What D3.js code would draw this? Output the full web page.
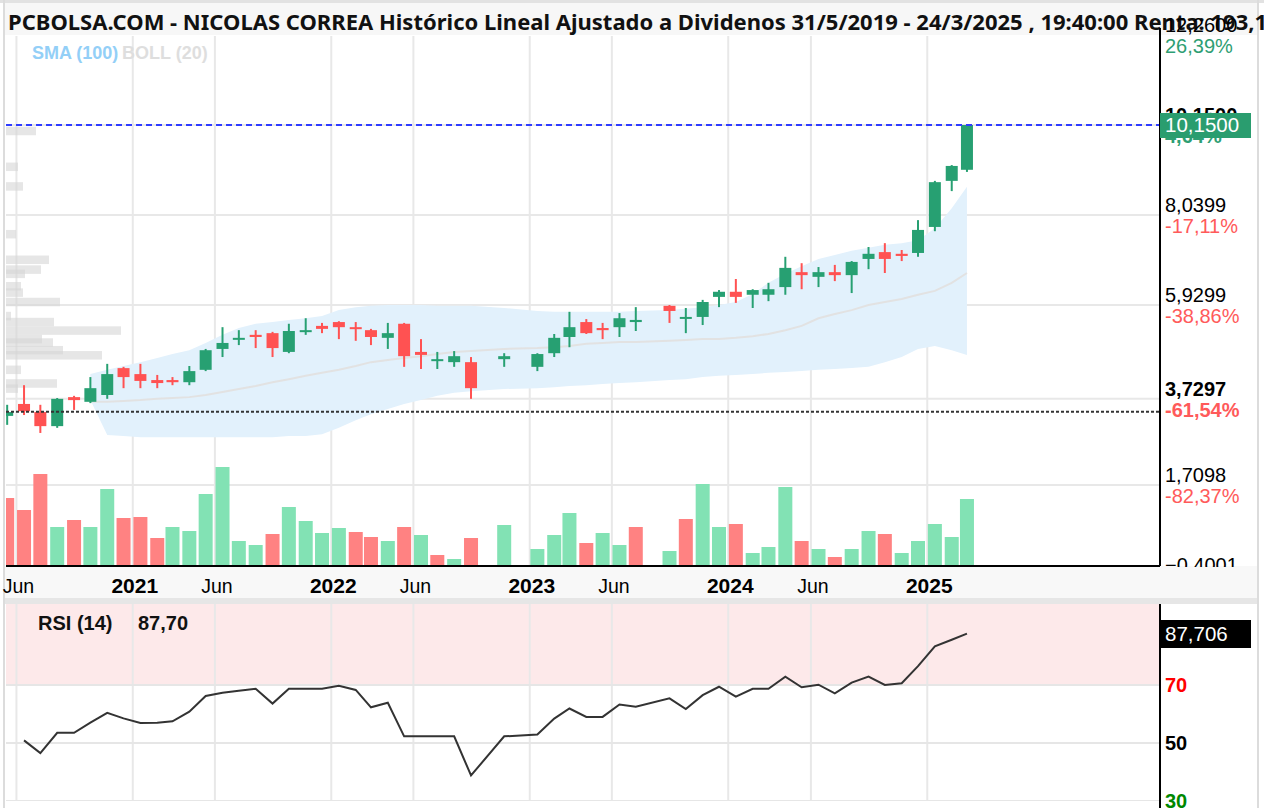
<!DOCTYPE html>
<meta charset="utf-8">
<script src="https://d3js.org/d3.v7.min.js"></script>
<style>
  body { margin: 0; background: #fff; }
  svg { display: block; font-family: Arial, "Liberation Sans", sans-serif; }
</style>
<body>
<div id="chart"></div>
<script>
// ---- data (monthly, Oct 2022 / Dec 2022 / Aug 2023 missing) ----
const months = ["2020-05","2020-06","2020-07","2020-08","2020-09","2020-10","2020-11","2020-12",
  "2021-01","2021-02","2021-03","2021-04","2021-05","2021-06","2021-07","2021-08","2021-09","2021-10","2021-11","2021-12",
  "2022-01","2022-02","2022-03","2022-04","2022-05","2022-06","2022-07","2022-08","2022-09","2022-11",
  "2023-01","2023-02","2023-03","2023-04","2023-05","2023-06","2023-07","2023-09","2023-10","2023-11","2023-12",
  "2024-01","2024-02","2024-03","2024-04","2024-05","2024-06","2024-07","2024-08","2024-09","2024-10","2024-11","2024-12",
  "2025-01","2025-02","2025-03"];

const open  = [3.33,3.61,3.42,3.09,3.77,3.66,3.82,4.45, 4.31,4.17,4.17,4.12,4.41,4.90,5.13,5.23,5.27,4.83,5.30,5.44,
  5.53,5.41,5.34,5.16,5.49,4.83,4.64,4.59,4.59,4.66, 4.48,4.80,5.18,5.53,5.39,5.41,5.53,5.91,5.62,5.65,6.12,
  6.24,6.17,6.17,6.35,6.70,6.59,6.70,6.63,7.01,7.17,7.13,7.15, 7.76,8.84,9.10];
const high  = [3.59,4.05,3.59,3.75,3.80,4.24,4.55,4.48, 4.55,4.29,4.24,4.50,4.90,5.41,5.34,5.34,5.30,5.49,5.62,5.51,
  5.55,5.53,5.37,5.51,5.51,5.13,4.83,4.85,4.71,4.80, 4.80,5.25,5.77,5.60,5.51,5.74,5.88,5.93,5.86,6.05,6.28,
  6.54,6.30,6.45,7.06,6.91,6.82,6.87,6.96,7.29,7.38,7.22,7.92, 8.84,9.21,10.17];
const low   = [3.12,3.35,2.93,3.05,3.47,3.63,3.73,3.98, 3.98,3.98,4.05,4.05,4.38,4.71,4.99,4.92,4.71,4.80,5.23,5.27,
  5.13,5.09,4.99,4.90,4.48,4.43,4.43,4.48,3.73,4.48, 4.38,4.71,4.94,5.25,5.13,5.18,5.32,5.51,5.27,5.46,5.88,
  5.98,5.86,6.02,6.17,6.30,6.35,6.49,6.21,6.77,6.68,6.96,7.06, 7.66,8.60,9.05];
const close = [3.42,3.44,3.09,3.73,3.70,3.98,4.31,4.24, 4.15,4.10,4.12,4.38,4.87,5.04,5.16,5.18,4.92,5.32,5.34,5.37,
  5.41,5.37,5.18,5.27,4.73,4.76,4.66,4.73,3.98,4.73, 4.78,5.16,5.41,5.27,5.34,5.62,5.58,5.79,5.65,6.00,6.24,
  6.12,6.28,6.30,6.80,6.63,6.70,6.63,6.94,7.13,7.01,7.08,7.69, 8.81,9.19,10.15];

const volume = [68,56,92,39,46,39,77,48, 49,28,39,35,72,99,25,21,32,59,45,33,
  38,34,29,25,39,31,11,7,28,41, 17,31,53,23,33,21,39,15,47,82,39,
  42,13,19,79,25,17,9,17,35,32,13,25, 42,29,67];
const volUp = [0,0,0,1,0,1,1,0, 0,0,1,1,1,1,1,1,0,1,1,1,
  1,0,0,1,0,1,0,1,0,1, 1,1,1,0,1,1,0,1,0,1,1,
  0,1,1,1,0,1,0,1,1,0,1,1, 1,1,1];

const bollUpper = [null,null,null,null,null,4.31,4.41,4.50, 4.59,4.69,4.78,4.87,5.04,5.23,5.39,5.49,5.53,5.58,5.62,5.67,
  5.81,5.88,5.91,5.93,5.93,5.93,5.91,5.91,5.91,5.86, 5.79,5.77,5.77,5.77,5.77,5.77,5.79,5.81,5.84,5.88,5.93,
  6.00,6.19,6.45,6.66,6.84,7.01,7.10,7.20,7.27,7.34,7.38,7.45, 7.73,8.20,8.70];
const bollMid = [null,null,null,null,null,3.66,3.66,3.68, 3.70,3.73,3.75,3.77,3.82,3.89,3.96,4.03,4.12,4.19,4.27,4.34,
  4.41,4.50,4.59,4.64,4.69,4.73,4.78,4.83,4.85,4.90, 4.92,4.94,4.97,5.02,5.04,5.06,5.06,5.09,5.11,5.13,5.13,
  5.16,5.20,5.25,5.34,5.44,5.62,5.72,5.81,5.93,6.00,6.07,6.17, 6.26,6.45,6.68];
const bollLower = [null,null,null,null,null,3.70,2.88,2.86, 2.83,2.83,2.83,2.83,2.83,2.83,2.83,2.83,2.83,2.86,2.86,2.90,
  3.05,3.23,3.37,3.49,3.61,3.70,3.80,3.87,3.91,3.96, 3.98,4.00,4.03,4.05,4.08,4.10,4.12,4.17,4.19,4.24,4.27,
  4.29,4.31,4.34,4.36,4.38,4.41,4.43,4.45,4.48,4.59,4.71,4.90, 4.97,4.87,4.76];

const rsi = [null,50.9,46.5,53.5,53.5,57.0,60.4,58.5, 56.9,57.0,57.5,60.8,66.2,67.3,68.0,68.7,63.6,68.7,68.7,68.7,
  69.7,68.3,62.3,63.9,52.3,52.3,52.3,52.3,38.8,52.3, 52.9,58.4,61.9,59.0,59.0,63.3,62.5,65.4,61.7,66.5,69.4,
  66.0,68.7,68.7,72.9,69.2,70.1,67.1,70.8,72.9,70.0,70.6,76.5, 83.3,85.6,87.7];

// volume-at-price profile on the left edge
const profPrice = [10.01,9.17,8.71,7.59,6.99,6.76,6.66,6.37,6.22,6.00,5.67,5.53,5.33,5.13,5.05,4.87,4.75,4.41,4.09,3.97];
const profVol   = [30,12,17,10,43,35,19,15,17,54,5,48,115,36,47,57,96,15,51,12];

const priceTicks = [12.26, 10.15, 8.0399, 5.9299, 3.7297, 1.7098, -0.4001];
const tickPct = ["26,39%", "4,64%", "-17,11%", "-38,86%", "-61,54%", "-82,37%", "-104,12%"];
const boldTicks = [10.15, 3.7297];
const lastPrice = 10.15;
const refPrice = 3.43;
const xTicks = ["2020-06","2021-01","2021-06","2022-01","2022-06","2023-01","2023-06","2024-01","2024-06","2025-01"];
const rsiLevels = [70, 50, 30];
const rsiLast = "87,706";

// ---- layout ----
const W = 1264, H = 808;
const plotL = 6, plotR = 1160, mainTop = 36, mainBot = 566, rsiTop = 604, rsiBot = 801;

const green = "#27a072", red = "#ff5252", volGreen = "#82e2b4", volRed = "#ff8282";
const fmt = v => d3.format(".4f")(v).replace(".", ",");

const parse = d3.timeParse("%Y-%m");
const dates = months.map(parse);
const mid = dates.map(d => new Date(d.getFullYear(), d.getMonth(), 15));

const x = d3.scaleTime().domain([new Date(2020, 4, 11), new Date(2026, 2, 5)]).range([5, plotR]);
const y = d3.scaleLinear().domain([1.7098, 10.15]).range([485, 125]);
const yVol = d3.scaleLinear().domain([0, 100]).range([mainBot, mainBot - 100]);
const xProf = d3.scaleLinear().domain([0, 115]).range([plotL, 121]);
const yR = d3.scaleLinear().domain([30, 100]).range([801, 598]);

const svg = d3.select("#chart").append("svg").attr("width", W).attr("height", H);

const defs = svg.append("defs");
defs.append("clipPath").attr("id", "clipMain").append("rect")
  .attr("x", plotL).attr("y", mainTop).attr("width", plotR - plotL).attr("height", mainBot - mainTop);
defs.append("clipPath").attr("id", "clipRsi").append("rect")
  .attr("x", plotL).attr("y", rsiTop).attr("width", plotR - plotL).attr("height", rsiBot - rsiTop);

// frame
svg.append("rect").attr("width", W).attr("height", H).attr("fill", "#fff");
svg.append("rect").attr("x", 0).attr("y", 0).attr("width", W).attr("height", 3).attr("fill", "#e2e2e2");
svg.append("rect").attr("x", 5).attr("y", 3).attr("width", 1253).attr("height", 32).attr("fill", "#f7f7f7");
svg.append("rect").attr("x", 3).attr("y", 0).attr("width", 2).attr("height", H).attr("fill", "#dcdcdc");
svg.append("rect").attr("x", 1257).attr("y", 0).attr("width", 2).attr("height", H).attr("fill", "#dcdcdc");

// main panel
const main = svg.append("g").attr("clip-path", "url(#clipMain)");

main.selectAll(".vgrid").data(xTicks).join("line")
  .attr("x1", d => x(parse(d))).attr("x2", d => x(parse(d)))
  .attr("y1", mainTop).attr("y2", mainBot)
  .attr("stroke", "#e8e8e8").attr("stroke-width", 2);

main.selectAll(".hgrid").data(priceTicks).join("line")
  .attr("x1", plotL).attr("x2", plotR)
  .attr("y1", d => y(d)).attr("y2", d => y(d))
  .attr("stroke", "#e8e8e8").attr("stroke-width", 2);

// volume profile
main.selectAll(".prof").data(profPrice).join("rect")
  .attr("x", plotL)
  .attr("y", d => y(d + 0.1))
  .attr("width", (d, i) => xProf(profVol[i]) - plotL)
  .attr("height", y(0) - y(0.2))
  .attr("fill", "#d6d6d6").attr("opacity", 0.6);

// bollinger band
const idx = d3.range(months.length);
main.append("path")
  .datum(idx)
  .attr("fill", "#e2f1fc")
  .attr("d", d3.area()
    .defined(i => bollUpper[i] != null)
    .x(i => x(mid[i]))
    .y0(i => y(bollLower[i]))
    .y1(i => y(bollUpper[i])));
main.append("path")
  .datum(idx)
  .attr("fill", "none").attr("stroke", "#e2e2e2").attr("stroke-width", 2)
  .attr("d", d3.line()
    .defined(i => bollMid[i] != null)
    .x(i => x(mid[i]))
    .y(i => y(bollMid[i])));

// volume bars
main.selectAll(".vol").data(idx).join("rect")
  .attr("x", i => x(mid[i]) - 7)
  .attr("y", i => yVol(volume[i]))
  .attr("width", 14)
  .attr("height", i => mainBot - yVol(volume[i]))
  .attr("fill", i => volUp[i] ? volGreen : volRed);

// candles
const candle = main.selectAll(".candle").data(idx).join("g");
candle.append("line")
  .attr("x1", i => x(mid[i])).attr("x2", i => x(mid[i]))
  .attr("y1", i => y(high[i])).attr("y2", i => y(low[i]))
  .attr("stroke", i => close[i] >= open[i] ? green : red).attr("stroke-width", 2);
candle.append("rect")
  .attr("x", i => x(mid[i]) - 6)
  .attr("y", i => y(Math.max(open[i], close[i])))
  .attr("width", 12)
  .attr("height", i => Math.max(2, Math.abs(y(open[i]) - y(close[i]))))
  .attr("fill", i => close[i] >= open[i] ? green : red);

// reference lines
main.append("line")
  .attr("x1", plotL).attr("x2", plotR).attr("y1", y(lastPrice)).attr("y2", y(lastPrice))
  .attr("stroke", "#2f3cff").attr("stroke-width", 2).attr("stroke-dasharray", "6,4");
main.append("line")
  .attr("x1", plotL).attr("x2", plotR).attr("y1", y(refPrice)).attr("y2", y(refPrice))
  .attr("stroke", "#333").attr("stroke-width", 2).attr("stroke-dasharray", "3,2");

// x axis strip
svg.append("rect").attr("x", 5).attr("y", mainBot).attr("width", 1252).attr("height", 32).attr("fill", "#f8f8f8");
svg.append("rect").attr("x", 5).attr("y", 598).attr("width", 1252).attr("height", 6).attr("fill", "#e6e6e6");
svg.append("line").attr("x1", plotL).attr("x2", plotR).attr("y1", mainBot).attr("y2", mainBot)
  .attr("stroke", "#000").attr("stroke-width", 2);

const xl = svg.append("g");
xl.selectAll("text").data(xTicks).join("text")
  .attr("x", d => x(parse(d)) + 2)
  .attr("y", 593)
  .attr("text-anchor", "middle")
  .attr("font-size", d => parse(d).getMonth() === 0 ? 21 : 19.5)
  .attr("font-weight", d => parse(d).getMonth() === 0 ? "bold" : "normal")
  .attr("fill", "#000")
  .text(d => parse(d).getMonth() === 0 ? parse(d).getFullYear() : "Jun");

// title + legend
svg.append("text").attr("x", 8).attr("y", 30)
  .attr("font-family", "'Noto Sans', 'Open Sans', sans-serif")
  .attr("font-size", 22).attr("font-weight", "bold").attr("fill", "#111")
  .text("PCBOLSA.COM - NICOLAS CORREA Histórico Lineal Ajustado a Dividenos 31/5/2019 - 24/3/2025 , 19:40:00 Renta: 193,18%");
svg.append("text").attr("x", 32).attr("y", 59).attr("font-size", 18).attr("font-weight", "bold")
  .attr("fill", "#93cff7").text("SMA (100)");
svg.append("text").attr("x", 122).attr("y", 59).attr("font-size", 18).attr("font-weight", "bold")
  .attr("fill", "#dedede").text("BOLL (20)");

// right price axis
svg.append("line").attr("x1", plotR).attr("x2", plotR).attr("y1", 28).attr("y2", mainBot)
  .attr("stroke", "#000").attr("stroke-width", 2);
const lab = svg.append("g");
priceTicks.forEach((v, i) => {
  const b = boldTicks.includes(v);
  lab.append("text").attr("x", 1165).attr("y", y(v) - 3)
    .attr("font-size", 20).attr("font-weight", b ? "bold" : "normal").attr("fill", "#000")
    .text(fmt(v));
  lab.append("text").attr("x", 1165).attr("y", y(v) + 18)
    .attr("font-size", 20).attr("font-weight", b ? "bold" : "normal")
    .attr("fill", tickPct[i].startsWith("-") ? "#ff5a5a" : "#2e9e73")
    .text(tickPct[i]);
});
// last price box
lab.append("rect").attr("x", plotR).attr("y", y(lastPrice) - 12).attr("width", 91).attr("height", 25)
  .attr("fill", "#2a9d6f");
lab.append("text").attr("x", 1165).attr("y", y(lastPrice) + 7)
  .attr("font-size", 20.5).attr("fill", "#fff").text(fmt(lastPrice));

// x axis strip covers the cut -0,4001 percent
svg.append("rect").attr("x", plotR + 1).attr("y", mainBot + 1).attr("width", 96).attr("height", 31).attr("fill", "#f8f8f8");
svg.append("rect").attr("x", plotR + 1).attr("y", 598).attr("width", 96).attr("height", 6).attr("fill", "#e6e6e6");

// ---- RSI panel ----
const rp = svg.append("g").attr("clip-path", "url(#clipRsi)");
rp.append("rect").attr("x", plotL).attr("y", yR(100)).attr("width", plotR - plotL)
  .attr("height", yR(70) - yR(100)).attr("fill", "#fde9ea");
rp.selectAll(".vg").data(xTicks).join("line")
  .attr("x1", d => x(parse(d))).attr("x2", d => x(parse(d)))
  .attr("y1", rsiTop).attr("y2", rsiBot)
  .attr("stroke", "#e8e8e8").attr("stroke-width", 2);
rp.selectAll(".hg").data(rsiLevels).join("line")
  .attr("x1", plotL).attr("x2", plotR)
  .attr("y1", d => yR(d)).attr("y2", d => yR(d))
  .attr("stroke", "#e6e6e6").attr("stroke-width", 2);
rp.append("path").datum(idx)
  .attr("fill", "none").attr("stroke", "#333").attr("stroke-width", 2)
  .attr("d", d3.line().defined(i => rsi[i] != null).x(i => x(mid[i])).y(i => yR(rsi[i])));

svg.append("line").attr("x1", plotR).attr("x2", plotR).attr("y1", rsiTop).attr("y2", H)
  .attr("stroke", "#000").attr("stroke-width", 2);
svg.selectAll(".rl").data(rsiLevels).join("text")
  .attr("x", 1165).attr("y", d => yR(d) + 7)
  .attr("font-size", 20).attr("font-weight", "bold")
  .attr("fill", d => d === 70 ? "#f00" : d === 30 ? "#080" : "#000")
  .text(d => d);
svg.append("rect").attr("x", plotR).attr("y", 620).attr("width", 91).attr("height", 28).attr("fill", "#000");
svg.append("text").attr("x", 1165).attr("y", 641).attr("font-size", 20.5).attr("fill", "#fff").text(rsiLast);

svg.append("text").attr("x", 38).attr("y", 630).attr("font-size", 20).attr("font-weight", "bold")
  .attr("fill", "#111").text("RSI (14)");
svg.append("text").attr("x", 138).attr("y", 630).attr("font-size", 20).attr("font-weight", "bold")
  .attr("fill", "#111").text(d3.format(".2f")(rsi[rsi.length - 1]).replace(".", ","));
</script>
</body>
